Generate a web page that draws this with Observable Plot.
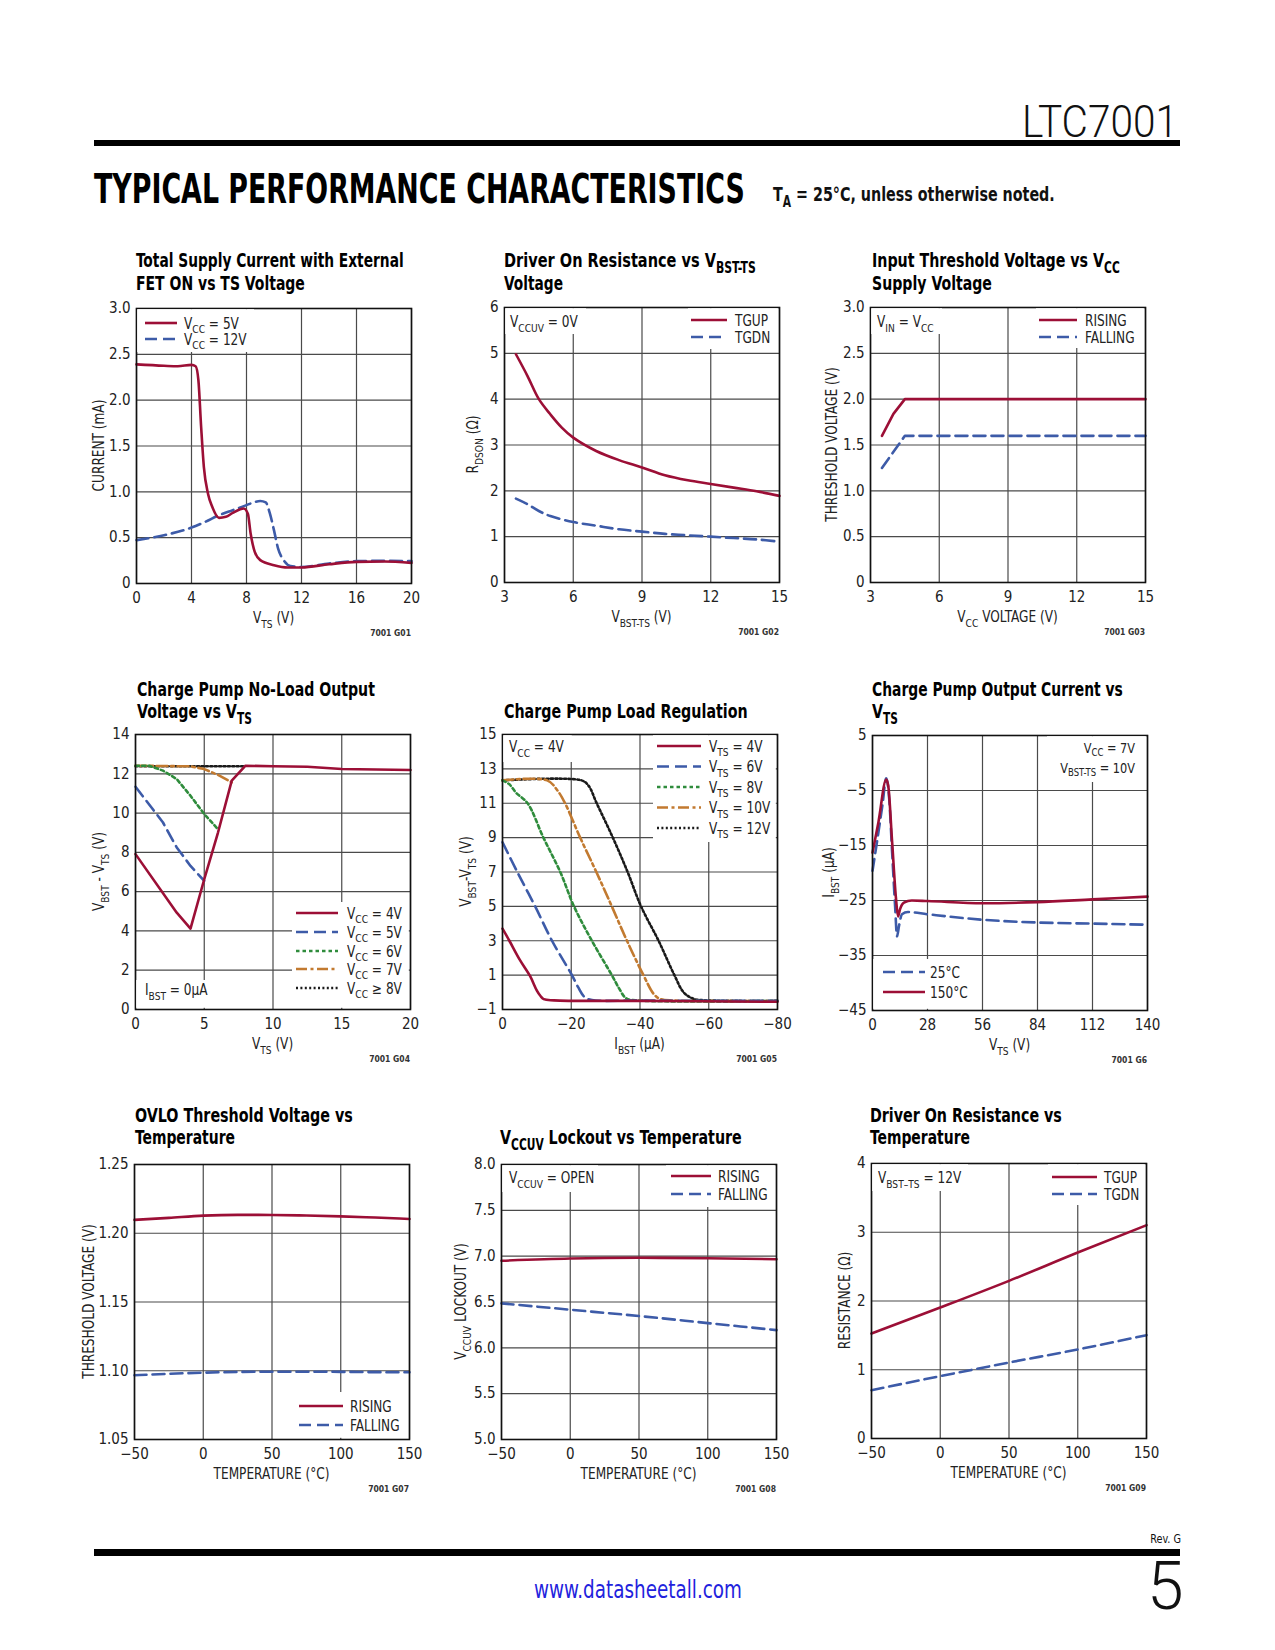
<!DOCTYPE html>
<html><head><meta charset="utf-8">
<script src="https://cdn.jsdelivr.net/npm/d3@7"></script>
<script src="https://cdn.jsdelivr.net/npm/@observablehq/plot@0.6"></script>
<style>
html,body{margin:0;padding:0;background:#fff;}
#page{position:relative;width:1275px;height:1650px;overflow:hidden;background:#fff;}
.chart{position:absolute;}
#overlay{position:absolute;left:0;top:0;pointer-events:none;}
#overlay text{white-space:pre;}
</style></head><body><div id="page"></div>
<script>
// ---------------- DATA ----------------
// Chart 1: Total Supply Current vs TS voltage
const c1XTicks=[0,4,8,12,16,20];
const c1YTicks=[0,0.5,1,1.5,2,2.5,3];
const c1Vcc5X=[0,2,3,4,4.3,4.5,4.7,4.9,5.2,5.5,6,6.5,7,7.5,7.8,8.1,8.3,8.6,9,10,11,12,14,16,18,20];
const c1Vcc5Y=[2.39,2.375,2.37,2.385,2.37,2.22,1.71,1.27,0.98,0.84,0.716,0.727,0.77,0.807,0.818,0.76,0.545,0.345,0.255,0.2,0.175,0.175,0.21,0.236,0.24,0.225];
const c1Vcc12X=[0,2,4,5,6,7,8,8.5,9,9.4,9.7,10,10.3,10.7,11.2,12,14,16,18,20];
const c1Vcc12Y=[0.473,0.527,0.61,0.673,0.745,0.80,0.855,0.884,0.9,0.884,0.764,0.58,0.38,0.255,0.19,0.18,0.218,0.244,0.247,0.244];
// Chart 2: Driver on resistance vs VBST-TS
const c2XTicks=[3,6,9,12,15];
const c2YTicks=[0,1,2,3,4,5,6];
const c2TgupX=[3.5,4,4.5,5,5.5,6,7,8,9,10,11,12,13,14,15];
const c2TgupY=[4.98,4.51,4.0,3.67,3.38,3.16,2.87,2.67,2.51,2.34,2.23,2.15,2.07,1.99,1.89];
const c2TgdnX=[3.5,4,4.5,5,6,7,8,9,10,11,12,13,14,15];
const c2TgdnY=[1.83,1.71,1.56,1.45,1.32,1.24,1.16,1.11,1.06,1.03,1.0,0.97,0.94,0.89];
// Chart 3: Input threshold vs VCC
const c3XTicks=[3,6,9,12,15];
const c3YTicks=[0,0.5,1,1.5,2,2.5,3];
const c3RisingX=[3.5,4,4.5,15];
const c3RisingY=[1.6,1.84,2.0,2.0];
const c3FallingX=[3.5,4.5,15];
const c3FallingY=[1.25,1.6,1.6];
// Chart 4: Charge pump no-load output
const c4XTicks=[0,5,10,15,20];
const c4YTicks=[0,2,4,6,8,10,12,14];
const c4Vcc4X=[0,3,4,5,6,7,8,10,12.5,15,20];
const c4Vcc4Y=[7.91,4.93,4.12,6.63,9.01,11.65,12.41,12.38,12.36,12.24,12.19];
const c4Vcc5X=[0,2,3,4,5];
const c4Vcc5Y=[11.34,9.52,8.25,7.31,6.55];
const c4Vcc6X=[0,1,2,3,4,5,6];
const c4Vcc6Y=[12.41,12.41,12.16,11.73,10.88,9.95,9.18];
const c4Vcc7X=[0,4,5,6,7];
const c4Vcc7Y=[12.41,12.38,12.24,11.94,11.56];
const c4Vcc8X=[0,8];
const c4Vcc8Y=[12.38,12.38];
// Chart 5: Charge pump load regulation
const c5XTicks=[0,-20,-40,-60,-80];
const c5YTicks=[-1,1,3,5,7,9,11,13,15];
const c5Vts4X=[0,-2,-5,-8,-10,-11,-12,-15,-40,-80];
const c5Vts4Y=[3.7,3.0,1.9,0.95,0.1,-0.2,-0.4,-0.47,-0.5,-0.55];
const c5Vts6X=[0,-4.3,-9.5,-14.4,-20.2,-22,-24,-26,-40,-80];
const c5Vts6Y=[8.73,7,5,3,1,0.3,-0.3,-0.45,-0.48,-0.5];
const c5Vts8X=[0,-2,-4,-7.3,-11.9,-16.8,-20.8,-26,-31.8,-34,-36,-40,-80];
const c5Vts8Y=[12.33,12.1,11.6,11,9,7,5,3,1,0.2,-0.35,-0.48,-0.5];
const c5Vts10X=[0,-13,-16,-18.2,-22.6,-27.3,-31.8,-36.2,-41,-44,-46,-50,-80];
const c5Vts10Y=[12.33,12.33,11.74,11,9,7,5,3,1,-0.1,-0.4,-0.48,-0.5];
const c5Vts12X=[0,-23,-25,-27.4,-32.1,-36.4,-40.3,-45.4,-50,-52.7,-55.6,-60,-80];
const c5Vts12Y=[12.33,12.33,12.03,11,9,7,5,3,1,0,-0.38,-0.47,-0.5];
// Chart 6: Charge pump output current vs VTS
const c6XTicks=[0,28,56,84,112,140];
const c6YTicks=[5,-5,-15,-25,-35,-45];
const c6T25X=[0,2,5,7,8.5,10,11.5,12.5,13.5,15,18,28,56,84,112,140];
const c6T25Y=[-19.6,-15,-7.8,-2.8,-6.5,-16.3,-26,-31.5,-29.6,-27.5,-27.1,-27.5,-28.5,-29.0,-29.2,-29.4];
const c6T150X=[0,3,7,8,10,12,13,14,16,20,28,56,84,112,140];
const c6T150Y=[-16.3,-10.8,-3.0,-4.1,-14.4,-24.8,-27.9,-26.6,-25.4,-25.0,-25.1,-25.5,-25.3,-24.8,-24.3];
// Chart 7: OVLO threshold vs temperature
const tempTicks=[-50,0,50,100,150];
const c7YTicks=[1.05,1.10,1.15,1.20,1.25];
const c7RisingX=[-50,-25,0,25,50,75,100,125,150];
const c7RisingY=[1.2097,1.2112,1.2128,1.2134,1.2133,1.2129,1.2123,1.2114,1.2104];
const c7FallingX=[-50,-25,0,25,50,75,100,125,150];
const c7FallingY=[1.0967,1.0978,1.0986,1.0991,1.0993,1.0993,1.0992,1.0990,1.0989];
// Chart 8: VCCUV lockout vs temperature
const c8YTicks=[5,5.5,6,6.5,7,7.5,8];
const c8RisingX=[-50,0,50,100,150];
const c8RisingY=[6.95,6.974,6.982,6.978,6.967];
const c8FallingX=[-50,0,50,100,150];
const c8FallingY=[6.485,6.416,6.347,6.27,6.193];
// Chart 9: Driver on resistance vs temperature
const c9YTicks=[0,1,2,3,4];
const c9TgupX=[-50,0,50,100,150];
const c9TgupY=[1.527,1.905,2.293,2.705,3.103];
const c9TgdnX=[-50,0,50,100,150];
const c9TgdnY=[0.703,0.907,1.105,1.295,1.503];

// ---------------- STYLE ----------------
const RED="#9c0f36", BLUE="#3d5ba8", GREEN="#2f8c3c", ORANGE="#c27a30", BLACK="#1a1a1a";
const STY={
  red:{stroke:RED,dash:null},
  blue:{stroke:BLUE,dash:"12,6"},
  green:{stroke:GREEN,dash:"3.5,3"},
  orange:{stroke:ORANGE,dash:"11,3.5,3,3.5"},
  black:{stroke:BLACK,dash:"2,2.4"}
};
const SW=2.6;
const S=275, ML=56, MR=24, MT=10, MB=34;
const FONT='"Liberation Sans Narrow","DejaVu Sans Condensed","Arial Narrow",sans-serif';
const CHART_SX=0.9;
const minus=d=>d<0?"\u2212"+(-d):String(d);
const f1z=d=>d===0?"0":d.toFixed(1);
const f1=d=>d.toFixed(1);
const f2=d=>d.toFixed(2);
const fi=d=>String(d);

const charts=[
 {fx:136,fy:308,xDomain:[0,20],yDomain:[0,3],xTicks:c1XTicks,yTicks:c1YTicks,xFmt:fi,yFmt:f1z,curve:"monotone-x",
  series:[{x:c1Vcc12X,y:c1Vcc12Y,s:"blue"},{x:c1Vcc5X,y:c1Vcc5Y,s:"red"}],
  title:[["Total Supply Current with External",268],["FET ON vs TS Voltage",169]],tx:136,tb:[267,290],
  ylab:"CURRENT (mA)",yoff:32,xlab:"V_{TS} (V)",code:"7001 G01",
  notes:[],
  legends:[{box:[0,0,118,44],sx:[9,41],tx:48,items:[["V_{CC} = 5V","red",15],["V_{CC} = 12V","blue",31]]}]},
 {fx:504,fy:307,xDomain:[3,15],yDomain:[0,6],xTicks:c2XTicks,yTicks:c2YTicks,xFmt:fi,yFmt:fi,curve:"catmull-rom",
  series:[{x:c2TgupX,y:c2TgupY,s:"red"},{x:c2TgdnX,y:c2TgdnY,s:"blue"}],
  title:[["Driver On Resistance vs V_{BST-TS}",252],["Voltage",59]],tx:504,tb:[267,290],
  ylab:"R_{DSON} (\u03A9)",yoff:26,xlab:"V_{BST-TS} (V)",code:"7001 G02",
  notes:[{box:[0,0,82,27],items:[["V_{CCUV} = 0V",6,20,"start"]]}],
  legends:[{box:[184,0,91,42],sx:[187,223],tx:231,items:[["TGUP","red",13],["TGDN","blue",30]]}]},
 {fx:870,fy:307,xDomain:[3,15],yDomain:[0,3],xTicks:c3XTicks,yTicks:c3YTicks,xFmt:fi,yFmt:f1z,curve:"linear",
  series:[{x:c3RisingX,y:c3RisingY,s:"red"},{x:c3FallingX,y:c3FallingY,s:"blue"}],
  title:[["Input Threshold Voltage vs V_{CC}",248],["Supply Voltage",120]],tx:872,tb:[267,290],
  ylab:"THRESHOLD VOLTAGE (V)",yoff:33,xlab:"V_{CC} VOLTAGE (V)",code:"7001 G03",
  notes:[{box:[0,0,72,27],items:[["V_{IN} = V_{CC}",7,20,"start"]]}],
  legends:[{box:[166,0,109,41],sx:[169,207],tx:215,items:[["RISING","red",13],["FALLING","blue",30]]}]},
 {fx:135,fy:734,xDomain:[0,20],yDomain:[0,14],xTicks:c4XTicks,yTicks:c4YTicks,xFmt:fi,yFmt:fi,curve:"linear",
  series:[{x:c4Vcc8X,y:c4Vcc8Y,s:"black"},{x:c4Vcc7X,y:c4Vcc7Y,s:"orange"},{x:c4Vcc6X,y:c4Vcc6Y,s:"green"},{x:c4Vcc5X,y:c4Vcc5Y,s:"blue"},{x:c4Vcc4X,y:c4Vcc4Y,s:"red"}],
  title:[["Charge Pump No-Load Output",238],["Voltage vs V_{TS}",115]],tx:137,tb:[696,718],
  ylab:"V_{BST} - V_{TS} (V)",yoff:31,xlab:"V_{TS} (V)",code:"7001 G04",
  notes:[{box:[0,246,75,29],items:[["I_{BST} = 0\u00B5A",10,261,"start"]]}],
  legends:[{box:[157,168,118,107],sx:[161,203],tx:212,items:[["V_{CC} = 4V","red",179],["V_{CC} = 5V","blue",198],["V_{CC} = 6V","green",217],["V_{CC} = 7V","orange",235],["V_{CC} \u2265 8V","black",254]]}]},
 {fx:502,fy:734,xDomain:[0,-80],yDomain:[-1,15],xTicks:c5XTicks,yTicks:c5YTicks,xFmt:minus,yFmt:minus,curve:"catmull-rom",
  series:[{x:c5Vts12X,y:c5Vts12Y,s:"black"},{x:c5Vts10X,y:c5Vts10Y,s:"orange"},{x:c5Vts8X,y:c5Vts8Y,s:"green"},{x:c5Vts6X,y:c5Vts6Y,s:"blue"},{x:c5Vts4X,y:c5Vts4Y,s:"red"}],
  title:[["Charge Pump Load Regulation",244]],tx:504,tb:[718],
  ylab:"V_{BST}-V_{TS} (V)",yoff:31,xlab:"I_{BST} (\u00B5A)",code:"7001 G05",
  notes:[{box:[0,0,70,28],items:[["V_{CC} = 4V",7,18,"start"]]}],
  legends:[{box:[151,0,124,108],sx:[155,199],tx:207,items:[["V_{TS} = 4V","red",12],["V_{TS} = 6V","blue",32.5],["V_{TS} = 8V","green",53],["V_{TS} = 10V","orange",73.5],["V_{TS} = 12V","black",94]]}]},
 {fx:872,fy:735,xDomain:[0,140],yDomain:[-45,5],xTicks:c6XTicks,yTicks:c6YTicks,xFmt:fi,yFmt:minus,curve:"monotone-x",
  series:[{x:c6T25X,y:c6T25Y,s:"blue"},{x:c6T150X,y:c6T150Y,s:"red"}],
  title:[["Charge Pump Output Current vs",251],["V_{TS}",26]],tx:872,tb:[696,718],
  ylab:"I_{BST} (\u00B5A)",yoff:38,xlab:"V_{TS} (V)",code:"7001 G6",
  notes:[{box:[175,0,100,47],size:14,items:[["V_{CC} = 7V",263,18,"end"],["V_{BST-TS} = 10V",263,38,"end"]]}],
  legends:[{box:[0,224,100,51],sx:[11,53],tx:58,items:[["25\u00B0C","blue",237],["150\u00B0C","red",257]]}]},
 {fx:134,fy:1164,xDomain:[-50,150],yDomain:[1.05,1.25],xTicks:tempTicks,yTicks:c7YTicks,xFmt:minus,yFmt:f2,curve:"monotone-x",
  series:[{x:c7RisingX,y:c7RisingY,s:"red"},{x:c7FallingX,y:c7FallingY,s:"blue"}],
  title:[["OVLO Threshold Voltage vs",218],["Temperature",100]],tx:135,tb:[1122,1144],
  ylab:"THRESHOLD VOLTAGE (V)",yoff:40,xlab:"TEMPERATURE (\u00B0C)",code:"7001 G07",
  notes:[],
  legends:[{box:[160,228,115,47],sx:[165,209],tx:216,items:[["RISING","red",242],["FALLING","blue",261]]}]},
 {fx:501,fy:1164,xDomain:[-50,150],yDomain:[5,8],xTicks:tempTicks,yTicks:c8YTicks,xFmt:minus,yFmt:f1,curve:"monotone-x",
  series:[{x:c8RisingX,y:c8RisingY,s:"red"},{x:c8FallingX,y:c8FallingY,s:"blue"}],
  title:[["V_{CCUV} Lockout vs Temperature",242]],tx:500,tb:[1144],
  ylab:"V_{CCUV} LOCKOUT (V)",yoff:35,xlab:"TEMPERATURE (\u00B0C)",code:"7001 G08",
  notes:[{box:[0,0,97,28],items:[["V_{CCUV} = OPEN",8,19,"start"]]}],
  legends:[{box:[165,0,110,43],sx:[170,210],tx:217,items:[["RISING","red",12],["FALLING","blue",30]]}]},
 {fx:871,fy:1163,xDomain:[-50,150],yDomain:[0,4],xTicks:tempTicks,yTicks:c9YTicks,xFmt:minus,yFmt:fi,curve:"monotone-x",
  series:[{x:c9TgupX,y:c9TgupY,s:"red"},{x:c9TgdnX,y:c9TgdnY,s:"blue"}],
  title:[["Driver On Resistance vs",192],["Temperature",100]],tx:870,tb:[1122,1144],
  ylab:"RESISTANCE (\u03A9)",yoff:21,xlab:"TEMPERATURE (\u00B0C)",code:"7001 G09",
  notes:[{box:[0,0,97,28],items:[["V_{BST\u2013TS} = 12V",7,20,"start"]]}],
  legends:[{box:[177,0,98,42],sx:[181,226],tx:233,items:[["TGUP","red",14],["TGDN","blue",31]]}]}
];

// ---------------- RENDER ----------------
const page=document.getElementById("page");
const table=(xs,ys)=>xs.map((x,i)=>({x,y:ys[i]}));

for(const c of charts){
  const marks=[
    Plot.gridX(c.xTicks,{stroke:"#4a4a4a",strokeOpacity:1,strokeWidth:1.2}),
    Plot.gridY(c.yTicks,{stroke:"#4a4a4a",strokeOpacity:1,strokeWidth:1.2})
  ];
  for(const s of c.series){
    const st=STY[s.s];
    const o={x:"x",y:"y",stroke:st.stroke,strokeWidth:SW,curve:c.curve};
    if(st.dash) o.strokeDasharray=st.dash;
    marks.push(Plot.line(table(s.x,s.y),o));
  }
  marks.push(Plot.frame({stroke:"#111",strokeWidth:1.6}));
  marks.push(Plot.axisX(c.xTicks,{tickSize:0,tickPadding:9,tickFormat:c.xFmt,label:null,fontSize:15}));
  marks.push(Plot.axisY(c.yTicks,{tickSize:0,tickPadding:6,tickFormat:c.yFmt,label:null,fontSize:15}));
  const svg=Plot.plot({width:S+ML+MR,height:S+MT+MB,marginLeft:ML,marginRight:MR,marginTop:MT,marginBottom:MB,
    x:{domain:c.xDomain},y:{domain:c.yDomain},
    style:{fontFamily:FONT,fontSize:"15px",color:"#222",background:"transparent",overflow:"visible"},
    marks});
  const div=document.createElement("div");
  div.className="chart";
  div.style.left=(c.fx-ML)+"px";
  div.style.top=(c.fy-MT)+"px";
  div.appendChild(svg);
  page.appendChild(div);
}

// overlay for page text, titles, axis labels and legends
const NS="http://www.w3.org/2000/svg";
const ov=document.createElementNS(NS,"svg");
ov.setAttribute("width",1275);ov.setAttribute("height",1650);ov.id="overlay";
page.appendChild(ov);
function el(tag,attrs,parent=ov){const e=document.createElementNS(NS,tag);for(const k in attrs)e.setAttribute(k,attrs[k]);parent.appendChild(e);return e;}
// text with _{sub} markup; horizontally scaled (sx) or fitted to a width (len)
function txt(x,y,markup,o={}){
  const fs=o.size||15;
  const t=el("text",{x:0,y:0,"font-size":fs,"font-family":o.family||FONT,"font-weight":o.weight||"normal",fill:o.fill||"#222","text-anchor":o.anchor||"start"});
  const re=/_\{([^}]*)\}/g;let last=0,m;const parts=[];
  while((m=re.exec(markup))){if(m.index>last)parts.push([markup.slice(last,m.index),false]);parts.push([m[1],true]);last=re.lastIndex;}
  if(last<markup.length)parts.push([markup.slice(last),false]);
  const off=fs*(o.subOff||0.3);let cur=0;
  for(const [s,sub] of parts){
    const sp=el("tspan",{},t);
    if(sub)sp.setAttribute("font-size",fs*0.75);
    const target=sub?off:0;
    if(target!==cur){sp.setAttribute("dy",target-cur);cur=target;}
    sp.textContent=s;
  }
  let sx=o.sx||1;
  if(o.len){const w=t.getComputedTextLength();if(w>0)sx=o.len/w;}
  t.setAttribute("transform",`translate(${x} ${y})${o.rotate?" rotate(-90)":""} scale(${sx} 1)`);
  return t;
}
function box(c,b){
  const x0=Math.max(b[0],1.2),y0=Math.max(b[1],1.2),x1=Math.min(b[0]+b[2],S-1.2),y1=Math.min(b[1]+b[3],S-1.2);
  el("rect",{x:c.fx+x0,y:c.fy+y0,width:x1-x0,height:y1-y0,fill:"#fff"});
}

// page header / footer
txt(1022,137,"LTC7001",{size:44,weight:300,family:'Roboto,"Liberation Sans Narrow",sans-serif',fill:"#111",len:156});
el("rect",{x:94,y:140,width:1086,height:6,fill:"#000"});
txt(94,203,"TYPICAL PERFORMANCE CHARACTERISTICS",{size:40,weight:900,family:'"DejaVu Sans Condensed","Liberation Sans Narrow",sans-serif',fill:"#000",len:651});
txt(773,201,"T_{A} = 25\u00B0C, unless otherwise noted.",{size:20,weight:"bold",fill:"#111",len:282});
txt(1181,1543,"Rev. G",{size:12,anchor:"end",fill:"#111",sx:0.9});
el("rect",{x:94,y:1549,width:1086,height:7,fill:"#000"});
txt(638,1598,"www.datasheetall.com",{size:24,anchor:"middle",fill:"#2222dd",len:208});
txt(1147,1609,"5",{size:66,weight:300,family:'Roboto,"Liberation Sans",sans-serif',fill:"#111"});

for(const c of charts){
  c.title.forEach(([s,len],i)=>txt(c.tx,c.tb[i],s,{size:20,weight:"bold",fill:"#000",len}));
  txt(c.fx+S/2,c.fy+S+40,c.xlab,{anchor:"middle",sx:CHART_SX});
  txt(c.fx-c.yoff,c.fy+S/2,c.ylab,{anchor:"middle",rotate:true,sx:CHART_SX});
  txt(c.fx+S,c.fy+S+53,c.code,{size:8.5,anchor:"end",weight:"bold",fill:"#333"});
  for(const n of c.notes){
    box(c,n.box);
    for(const [s,x,y,a] of n.items)txt(c.fx+x,c.fy+y,s,{anchor:a,sx:CHART_SX,size:n.size||15,subOff:n.size?0.22:0.3});
  }
  for(const L of c.legends){
    box(c,L.box);
    for(const [s,style,y] of L.items){
      const st=STY[style];
      el("line",{x1:c.fx+L.sx[0],x2:c.fx+L.sx[1],y1:c.fy+y,y2:c.fy+y,stroke:st.stroke,"stroke-width":SW,"stroke-dasharray":st.dash||"none"});
      txt(c.fx+L.tx,c.fy+y+5.5,s,{sx:CHART_SX});
    }
  }
}
</script></body></html>
